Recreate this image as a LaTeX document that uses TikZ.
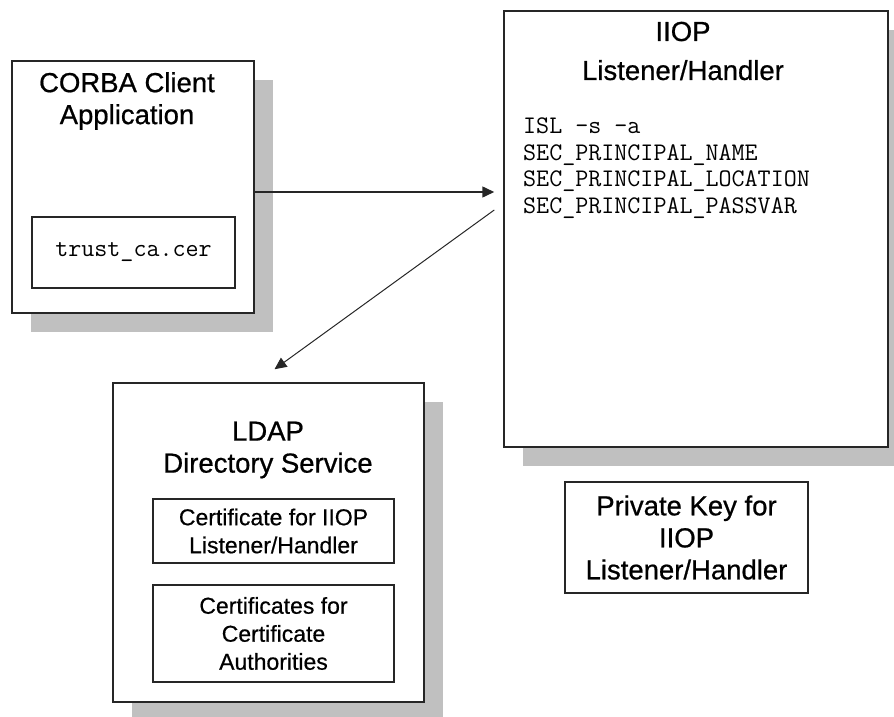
\documentclass[tikz,border=0pt]{standalone}
\usepackage{fontspec}
\setmainfont{Liberation Sans}[FakeBold=0.7]
\newfontfamily\plainsf{Liberation Sans}[FakeBold=0.5]
\usetikzlibrary{shadows,arrows.meta}
\definecolor{shadowgray}{RGB}{192,192,192}

\tikzset{
  box/.style={draw=black!85, line width=1.5pt, fill=white, inner sep=0pt},
  shadowbox/.style={box, drop shadow={shadow xshift=19pt, shadow yshift=-19pt, fill=shadowgray, opacity=1}},
  title/.style={align=center, inner sep=0pt, font=\fontsize{27.5}{32}\selectfont},
  small/.style={align=center, font=\plainsf\fontsize{23}{28}\selectfont},
  mono/.style={align=left, inner sep=0pt, font=\ttfamily\fontsize{25.3}{26.5}\selectfont},
  arr/.style={-{Triangle[length=12pt,width=11pt]}, line width=1.5pt, black!85}
}

\begin{document}
\begin{tikzpicture}[x=1pt,y=-1pt]
\useasboundingbox (0,0) rectangle (894,717);

\node[shadowbox, minimum width=242pt, minimum height=252pt](client) at (133,187) {};
\node[title](clienttitle) at (127,101) {CORBA Client\\Application};
\node[box, minimum width=203pt, minimum height=71pt, font=\ttfamily\fontsize{25.3}{26}\selectfont](trust) at (133.5,252.5) {trust\_ca.cer};

\node[shadowbox, minimum width=384pt, minimum height=436pt](iiop) at (696,229) {};
\node[title](iioptitle) at (683,51) {IIOP\\[7pt]Listener/Handler};
\node[mono, anchor=west](cmds) at (523,168) {ISL –s –a\\SEC\_PRINCIPAL\_NAME\\SEC\_PRINCIPAL\_LOCATION\\SEC\_PRINCIPAL\_PASSVAR};

\node[shadowbox, minimum width=311pt, minimum height=319pt](ldap) at (268.5,542.5) {};
\node[title](ldaptitle) at (268,450) {LDAP\\Directory Service};
\node[box, small, minimum width=241pt, minimum height=64pt](certiiop) at (273.5,531) {Certificate for IIOP\\Listener/Handler};
\node[box, small, minimum width=241pt, minimum height=97pt](certca) at (273.5,633.5) {Certificates for\\Certificate\\Authorities};

\node[box, title, minimum width=243pt, minimum height=111pt](privkey) at (686.5,537.5) {Private Key for\\IIOP\\Listener/Handler};

\coordinate (harrow) at (0,192);
\coordinate (darrow) at (0,210);
\path (client.east |- harrow) edge[arr] ([xshift=-9pt]iiop.west |- harrow);
\path ([xshift=-9pt]iiop.west |- darrow) edge[arr, line width=1pt] ([shift={(6,-13)}]ldap.north);
\end{tikzpicture}
\end{document}
